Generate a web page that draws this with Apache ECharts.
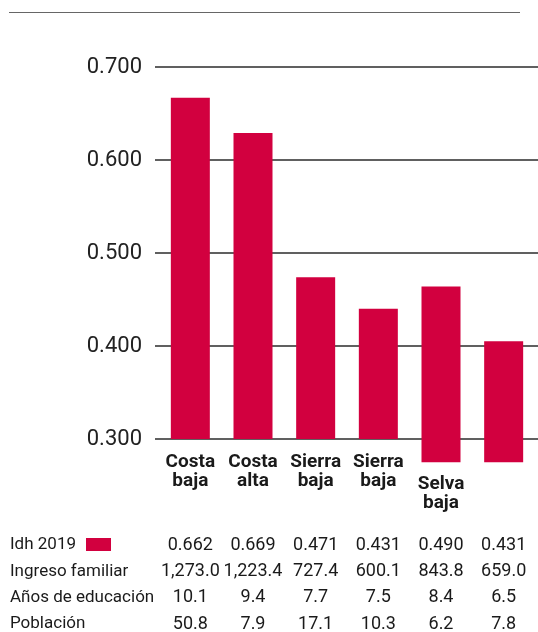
<!DOCTYPE html>
<html>
<head>
<meta charset="utf-8">
<script src="https://cdn.jsdelivr.net/npm/echarts@6/dist/echarts.min.js"></script>
<style>
  html, body { margin: 0; padding: 0; background: #fff; }
  #chart { width: 538px; height: 632px; }
</style>
</head>
<body>
<div id="chart"></div>
<script>
const categories = ['Costa\nbaja', 'Costa\nalta', 'Sierra\nbaja', 'Sierra\nbaja', 'Selva\nbaja', ''];
// bar tops and bases (value axis units)
const barTop = [0.667, 0.629, 0.474, 0.440, 0.464, 0.405];
const barBase = [0.300, 0.300, 0.300, 0.300, 0.275, 0.275];
// table rows
const rowLabels = ['Idh 2019', 'Ingreso familiar', 'Años de educación', 'Población'];
const idh2019 = ['0.662', '0.669', '0.471', '0.431', '0.490', '0.431'];
const ingreso = ['1,273.0', '1,223.4', '727.4', '600.1', '843.8', '659.0'];
const educacion = ['10.1', '9.4', '7.7', '7.5', '8.4', '6.5'];
const poblacion = ['50.8', '7.9', '17.1', '10.3', '6.2', '7.8'];

const RED = '#d2003f';
const TEXT = '#1a1a1a';
const ROW_H = 26.3;

const chart = echarts.init(document.getElementById('chart'));

const option = {
  backgroundColor: '#fff',
  animation: false,
  textStyle: { fontFamily: 'Roboto' },
  grid: [
    // gridlines + value labels
    { left: 155, right: 0, top: 67, bottom: 100, outerBoundsMode: 'none' },
    // bars
    { left: 159, right: 3, top: 67, bottom: 100, outerBoundsMode: 'none' }
  ],
  legend: {
    data: ['Idh 2019'],
    left: 86,
    top: 538,
    padding: 0,
    itemWidth: 25,
    itemHeight: 13,
    icon: 'rect',
    formatter: () => '',
    selectedMode: false
  },
  xAxis: [
    { type: 'category', gridIndex: 0, data: categories, show: false },
    {
      type: 'category',
      gridIndex: 1,
      data: categories.map((c, i) => i === 4 ? { value: c, textStyle: { padding: [22, 0, 0, 0] } } : c),
      position: 'bottom',
      offset: -93,
      axisLine: { show: false },
      axisTick: { show: false },
      axisLabel: {
        margin: 14,
        interval: 0,
        color: TEXT,
        fontFamily: 'Roboto',
        fontWeight: 'bold',
        fontSize: 19,
        lineHeight: 19
      }
    },
    {
      type: 'category',
      gridIndex: 1,
      data: categories,
      position: 'bottom',
      offset: 0,
      axisLine: { show: false },
      axisTick: { show: false },
      axisLabel: {
        margin: 0,
        interval: 0,
        color: TEXT,
        fontFamily: 'Roboto',
        fontSize: 18,
        lineHeight: ROW_H,
        formatter: (v, i) => [idh2019[i], ingreso[i], educacion[i], poblacion[i]].join('\n')
      }
    }
  ],
  yAxis: [
    {
      type: 'value',
      gridIndex: 0,
      min: 0.2,
      max: 0.7,
      interval: 0.1,
      axisLine: { show: false },
      axisTick: { show: false },
      axisLabel: {
        showMinLabel: false,
        margin: 13,
        color: '#222',
        fontFamily: 'Roboto',
        fontSize: 22,
        formatter: v => v.toFixed(3)
      },
      splitLine: { showMinLine: false, lineStyle: { color: '#2b2b2b', width: 1.5 } }
    },
    {
      type: 'value',
      gridIndex: 1,
      min: 0.2,
      max: 0.7,
      interval: 0.1,
      show: false,
      splitLine: { show: false }
    }
  ],
  graphic: [
    {
      type: 'line',
      shape: { x1: 9, y1: 12.5, x2: 520, y2: 12.5 },
      style: { stroke: '#666', lineWidth: 1 }
    },
    {
      type: 'text',
      left: 10,
      top: 532,
      style: {
        text: rowLabels.join('\n'),
        font: '17px Roboto',
        lineHeight: ROW_H,
        fill: TEXT
      }
    }
  ],
  series: [
    {
      name: 'base',
      type: 'bar',
      xAxisIndex: 1,
      yAxisIndex: 1,
      stack: 'idh',
      barWidth: 39,
      data: barBase,
      itemStyle: { color: 'rgba(0,0,0,0)' },
      silent: true
    },
    {
      name: 'Idh 2019',
      type: 'bar',
      xAxisIndex: 1,
      yAxisIndex: 1,
      stack: 'idh',
      barWidth: 39,
      data: barTop.map((t, i) => +(t - barBase[i]).toFixed(3)),
      itemStyle: { color: RED }
    }
  ]
};

chart.setOption(option);
</script>
</body>
</html>
